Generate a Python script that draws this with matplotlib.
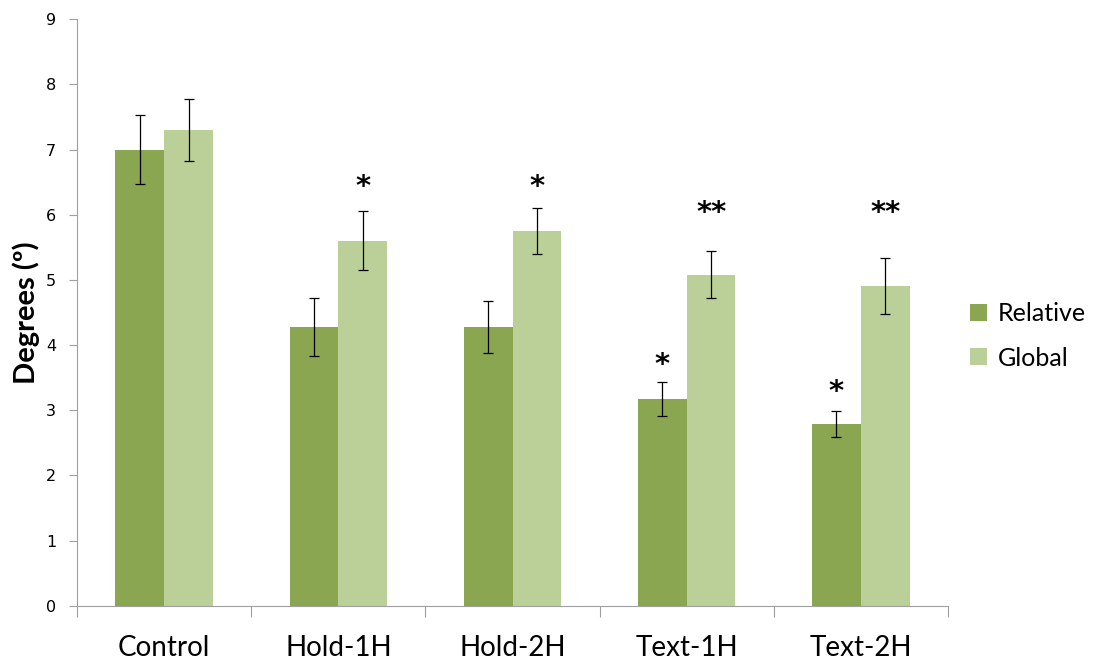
import matplotlib.pyplot as plt
import numpy as np

groups = ['Control', 'Hold-1H', 'Hold-2H', 'Text-1H', 'Text-2H']
relative = [7.00, 4.28, 4.28, 3.17, 2.79]
relative_err = [0.53, 0.44, 0.40, 0.26, 0.20]
global_ = [7.30, 5.60, 5.75, 5.08, 4.90]
global_err = [0.48, 0.45, 0.35, 0.36, 0.43]

# significance markers: (group index, series, text, height in degrees)
stars = [
    (1, 'global', '*', 6.43),
    (2, 'global', '*', 6.43),
    (3, 'relative', '*', 3.70),
    (3, 'global', '**', 6.03),
    (4, 'relative', '*', 3.28),
    (4, 'global', '**', 6.03),
]

c_rel = '#8BA650'
c_glob = '#BBCF98'

fig = plt.figure(figsize=(11.01, 6.60), dpi=100)
ax = fig.add_axes([0.070, 0.082, 0.791, 0.889])

x = np.arange(len(groups))
w = 0.28
ax.bar(x - w / 2, relative, w, color=c_rel, label='Relative', zorder=2)
ax.bar(x + w / 2, global_, w, color=c_glob, label='Global', zorder=2)
ax.errorbar(x - w / 2, relative, yerr=relative_err, fmt='none', ecolor='black',
            elinewidth=0.9, capsize=3.6, capthick=0.9, zorder=3)
ax.errorbar(x + w / 2, global_, yerr=global_err, fmt='none', ecolor='black',
            elinewidth=0.9, capsize=3.6, capthick=0.9, zorder=3)

for i, series, txt, h in stars:
    xs = x[i] - w / 2 if series == 'relative' else x[i] + w / 2
    ax.text(xs, h, txt, ha='center', va='center', fontsize=21,
            fontweight='bold', family='DejaVu Sans')

ax.set_xlim(-0.5, len(groups) - 0.5)
ax.set_ylim(0, 9)
ax.set_yticks(range(10))
ax.tick_params(axis='y', direction='out', length=6, color='#A0A0A0',
               labelsize=11.5, pad=9)
ax.set_xticks(np.arange(len(groups) + 1) - 0.5)
ax.set_xticklabels([])
ax.set_xticks(x, minor=True)
ax.set_xticklabels(groups, minor=True, fontsize=20, family='Lato')
ax.tick_params(axis='x', which='major', direction='out', length=8,
               color='#A0A0A0')
ax.tick_params(axis='x', which='minor', length=0, pad=21)

for s in ['top', 'right']:
    ax.spines[s].set_visible(False)
for s in ['left', 'bottom']:
    ax.spines[s].set_color('#A0A0A0')

ax.set_ylabel('Degrees (º)', fontsize=21, fontweight='bold', family='Lato',
              labelpad=4)

ax.legend(loc='center left', bbox_to_anchor=(1.0, 0.46), frameon=False,
          prop={'family': 'Lato', 'size': 18},
          handlelength=0.65, handleheight=0.65, handletextpad=0.45,
          labelspacing=0.85)

fig.savefig('out.png', dpi=100)
